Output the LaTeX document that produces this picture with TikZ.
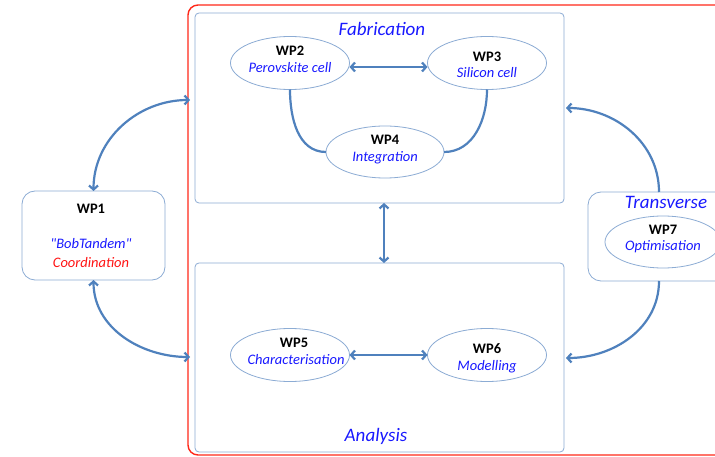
\documentclass[tikz,border=0pt]{standalone}
\usepackage{fontspec}
\setmainfont{Carlito}
\usetikzlibrary{arrows.meta,shapes.geometric}
\definecolor{conn}{RGB}{79,129,189}
\definecolor{boxline}{RGB}{140,172,212}
\definecolor{framered}{RGB}{255,40,25}
\definecolor{txtblue}{RGB}{25,25,255}
\definecolor{txtred}{RGB}{255,20,20}
\begin{document}
\begin{tikzpicture}[x=1pt,y=-1pt,
  wpbox/.style={draw=boxline,line width=0.8pt,inner sep=0pt,outer sep=0pt,rounded corners=4pt},
  roundbox/.style={draw=boxline,line width=0.8pt,inner sep=0pt,outer sep=0pt,rounded corners=13pt},
  wpell/.style={draw=boxline,line width=0.8pt,ellipse,inner sep=0pt,outer sep=0pt,minimum width=119pt,minimum height=53pt},
  conline/.style={draw=conn,line width=2.2pt},
  biarrow/.style={conline,{Straight Barb[length=4pt,width=9pt]}-{Straight Barb[length=4pt,width=9pt]}},
  onearrow/.style={conline,-{Straight Barb[length=4pt,width=9pt]}},
  wplabel/.style={anchor=base,inner sep=0pt,font=\fontsize{14.5}{17}\selectfont\bfseries},
  wptext/.style={anchor=base,inner sep=0pt,text=txtblue,font=\fontsize{14.5}{17}\selectfont\itshape},
  grouptitle/.style={anchor=base,inner sep=0pt,text=txtblue,font=\fontsize{19}{22}\selectfont\itshape}]
\useasboundingbox (0,0) rectangle (715,457);
\fill[white] (0,0) rectangle (715,457);
% red frame
\draw[framered,line width=1.4pt,rounded corners=10pt] (740,5) -- (188,5) -- (188,455) -- (740,455);
% group boxes
\node[wpbox,minimum width=369pt,minimum height=190pt] (fab) at (379.5,108) {};
\node[wpbox,minimum width=369pt,minimum height=189pt] (ana) at (379.5,357.5) {};
\node[roundbox,minimum width=143pt,minimum height=89pt] (wp1) at (93.5,235.5) {};
\node[roundbox,minimum width=152pt,minimum height=89pt] (trans) at (664,236.5) {};
% ellipses
\node[wpell] (wp2) at (290,63) {};
\node[wpell] (wp3) at (487,63) {};
\node[wpell,minimum width=118pt,minimum height=52pt] (wp4) at (385,152) {};
\node[wpell] (wp5) at (290,355) {};
\node[wpell] (wp6) at (487,355) {};
\node[wpell,minimum width=116pt,minimum height=52pt] (wp7) at (663,242) {};
% titles
\node[grouptitle] (tfab) at (382,36) {Fabrication};
\node[grouptitle] (tana) at (376,441) {Analysis};
\node[grouptitle] (ttrans) at (666,209) {Transverse};
% labels
\node[wplabel] (l1) at (91,214) {WP1};
\node[wptext] (l1a) at (91,249) {\textquotedbl BobTandem\textquotedbl};
\node[wptext,text=txtred] (l1b) at (91,267) {Coordination};
\node[wplabel] (l2) at (290,56) {WP2};
\node[wptext] (l2a) at (290,73) {Perovskite cell};
\node[wplabel] (l3) at (487,62) {WP3};
\node[wptext] (l3a) at (487,78) {Silicon cell};
\node[wplabel] (l4) at (385,145) {WP4};
\node[wptext] (l4a) at (385,162) {Integration};
\node[wplabel] (l5) at (294,347) {WP5};
\node[wptext] (l5a) at (296,364) {Characterisation};
\node[wplabel] (l6) at (487,353) {WP6};
\node[wptext] (l6a) at (487,370) {Modelling};
\node[wplabel] (l7) at (663,235) {WP7};
\node[wptext] (l7a) at (663,251) {Optimisation};
% coordinates for free ends
\coordinate (fabL) at (190,100);
\coordinate (anaL) at (190,357);
\coordinate (fabR) at (566,108);
\coordinate (anaR) at (566,358);
\coordinate (transT) at (659,192);
\coordinate (transB) at (659,281);
% connectors
\draw[biarrow] ([yshift=-4pt]wp2.east) -- ([yshift=-4pt]wp3.west);
\draw[biarrow] (wp5.east) -- (wp6.west);
\draw[conline] (wp2.south) to[out=-90,in=180] (wp4.west);
\draw[conline] (wp3.south) to[out=-90,in=0] (wp4.east);
\draw[biarrow] ([xshift=4.5pt]fab.south) -- ([xshift=4.5pt]ana.north);
\draw[biarrow] (wp1.north) to[out=90,in=180] (fabL);
\draw[biarrow] (wp1.south) to[out=-90,in=180] (anaL);
\draw[onearrow] (transT) to[out=90,in=0] (fabR);
\draw[onearrow] (transB) to[out=-90,in=0] (anaR);
\end{tikzpicture}
\end{document}
